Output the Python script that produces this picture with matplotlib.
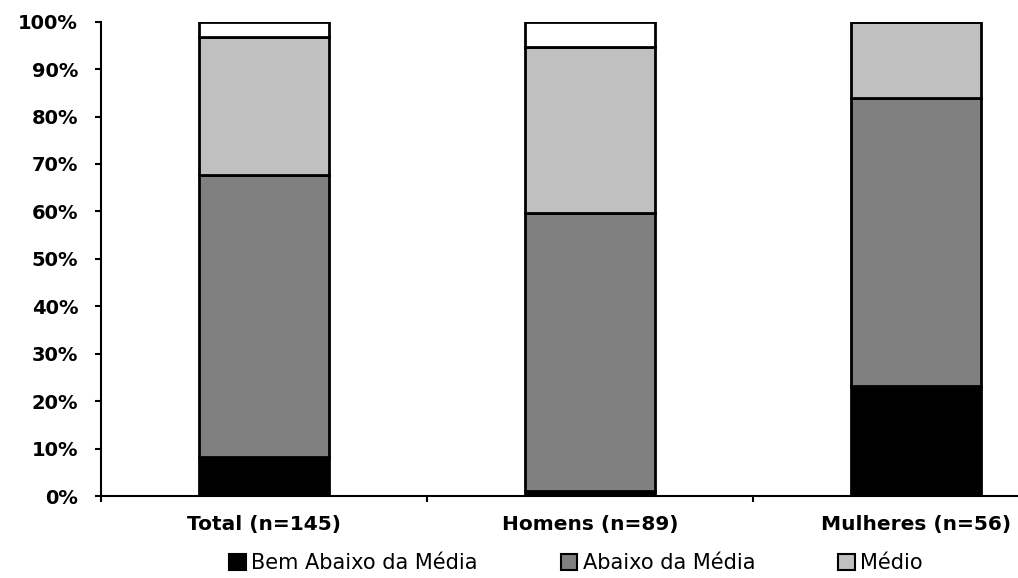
import matplotlib
matplotlib.use("Agg")
import matplotlib.pyplot as plt
from matplotlib.patches import Patch
import numpy as np

categories = ["Total (n=145)", "Homens (n=89)", "Mulheres (n=56)"]
series_names = ["Bem Abaixo da Média", "Abaixo da Média", "Médio", "Acima da Média"]
bem_abaixo = [8.3, 1.1, 23.2]
abaixo = [59.4, 58.6, 60.8]
medio = [29.0, 35.0, 16.0]
acima = [3.3, 5.3, 0.0]
colors = ["#000000", "#808080", "#C0C0C0", "#FFFFFF"]
y_ticks = [0, 10, 20, 30, 40, 50, 60, 70, 80, 90, 100]
y_tick_labels = [f"{v}%" for v in y_ticks]

plt.rcParams['font.family'] = ['DejaVu Sans']

fig = plt.figure(figsize=(10.18, 5.78), dpi=100)
ax = fig.add_axes([101/1018, 82/578, 978/1018, 474.3/578])

x = np.arange(len(categories))
bottom = np.zeros(len(categories))
for vals, col in zip([bem_abaixo, abaixo, medio, acima], colors):
    ax.bar(x, vals, width=0.4, bottom=bottom, color=col, edgecolor="black",
           linewidth=2.0, zorder=3)
    bottom += np.array(vals)

ax.set_xlim(-0.5, 2.5)
ax.set_ylim(0, 100)
ax.set_yticks(y_ticks)
ax.set_yticklabels(y_tick_labels, fontsize=14, fontweight="bold")
ax.set_xticks(x)
ax.set_xticklabels(categories, fontsize=14.5, fontweight="bold")
ax.set_xticks(np.arange(-0.5, 2.6, 1.0), minor=True)
ax.tick_params(axis="x", which="major", length=0, pad=14)
ax.tick_params(axis="x", which="minor", length=4.5, width=1.5, direction="out")
ax.tick_params(axis="y", length=4.5, width=1.5, direction="out", pad=12)
for s in ["top", "right"]:
    ax.spines[s].set_visible(False)
ax.spines["left"].set_linewidth(1.5)
ax.spines["bottom"].set_linewidth(1.5)
ax.spines["bottom"].set_zorder(4)

handles = [Patch(facecolor=c, edgecolor="black", linewidth=1.5) for c in colors[:3]]
fig.legend(handles, series_names[:3], ncol=3, loc="center left",
           bbox_to_anchor=(229/1018, 15/578), frameon=False, fontsize=15,
           handlelength=0.8, handleheight=0.8, handletextpad=0.25,
           columnspacing=4.0, borderpad=0, borderaxespad=0)

fig.savefig("out.png", dpi=100)
